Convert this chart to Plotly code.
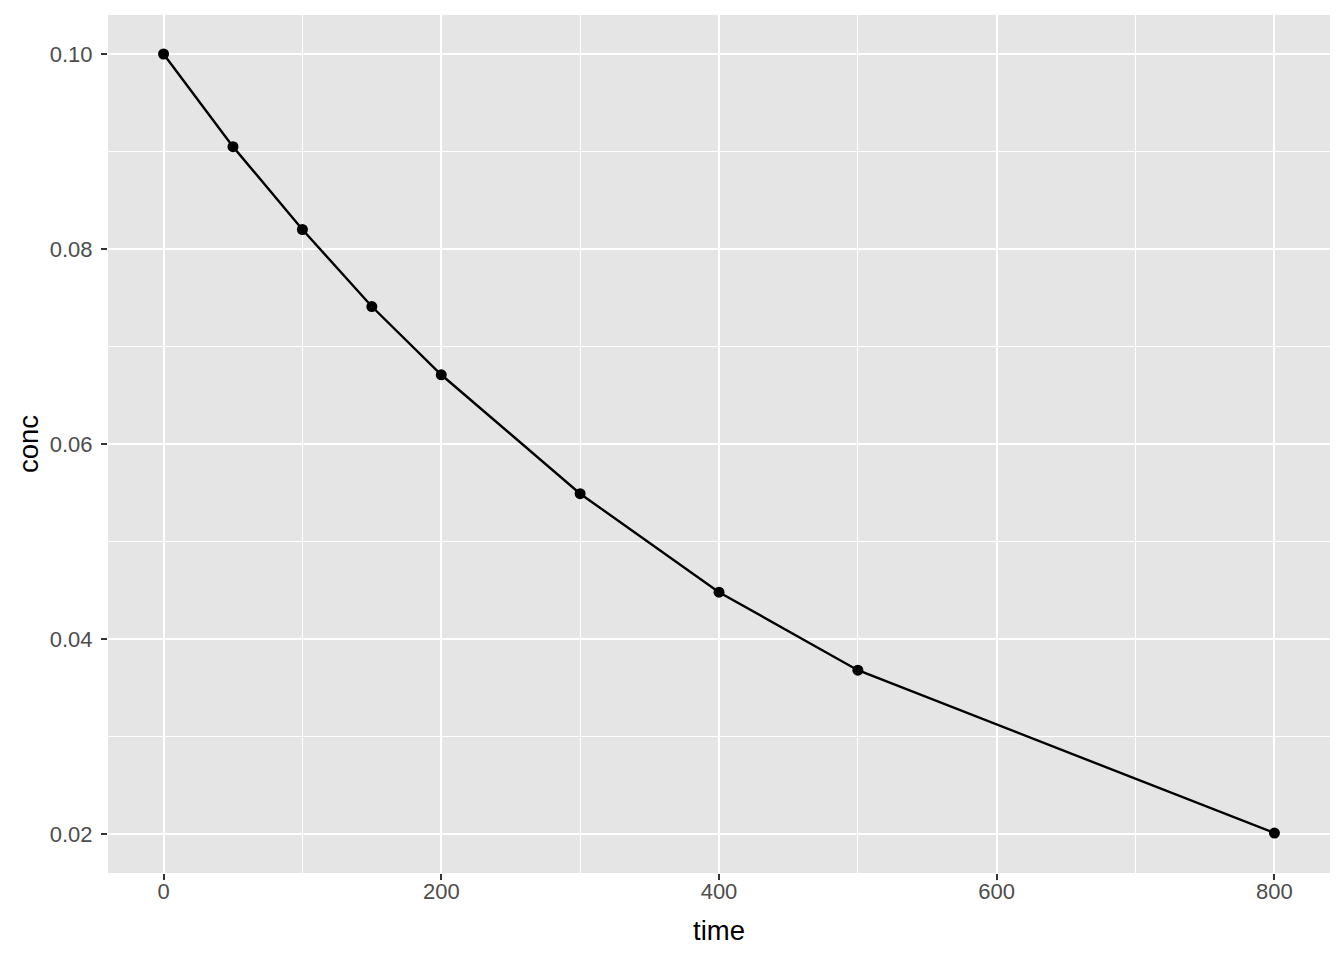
import plotly.graph_objects as go

time = [0, 50, 100, 150, 200, 300, 400, 500, 800]
conc = [0.1000, 0.0905, 0.0820, 0.0741, 0.0671, 0.0549, 0.0448, 0.0368, 0.0201]

x_ticks = [0, 200, 400, 600, 800]
y_ticks = [0.02, 0.04, 0.06, 0.08, 0.10]
y_labels = ["0.02", "0.04", "0.06", "0.08", "0.10"]

fig = go.Figure()
fig.add_trace(go.Scatter(
    x=time, y=conc, mode="lines+markers",
    line=dict(color="black", width=2.4),
    marker=dict(color="black", size=11),
    showlegend=False,
))

fig.update_layout(
    width=1336, height=952,
    margin=dict(l=100, r=14, t=7, b=87),
    paper_bgcolor="white",
    plot_bgcolor="#E5E5E5",
    font=dict(family="Liberation Sans, Arial, sans-serif", color="#4D4D4D", size=22),
)

fig.update_xaxes(
    range=[-40, 840],
    tickvals=x_ticks,
    ticks="outside", ticklen=6, tickwidth=2, tickcolor="#333333",
    ticklabelstandoff=-7,
    showgrid=True, gridcolor="white", gridwidth=2,
    minor=dict(tickvals=[100, 300, 500, 700], showgrid=True, gridcolor="white", gridwidth=1, ticks=""),
    zeroline=False, showline=False,
    title=dict(text="time", font=dict(size=27.5, color="black"), standoff=17),
    tickfont=dict(size=22, color="#4D4D4D"),
)
fig.update_yaxes(
    range=[0.016, 0.104],
    tickvals=y_ticks, ticktext=y_labels,
    ticks="outside", ticklen=6, tickwidth=2, tickcolor="#333333",
    ticklabelstandoff=4,
    showgrid=True, gridcolor="white", gridwidth=2,
    minor=dict(tickvals=[0.03, 0.05, 0.07, 0.09], showgrid=True, gridcolor="white", gridwidth=1, ticks=""),
    zeroline=False, showline=False,
    title=dict(text="conc", font=dict(size=27.5, color="black"), standoff=3),
    tickfont=dict(size=22, color="#4D4D4D"),
)

fig.write_html("out.html")
